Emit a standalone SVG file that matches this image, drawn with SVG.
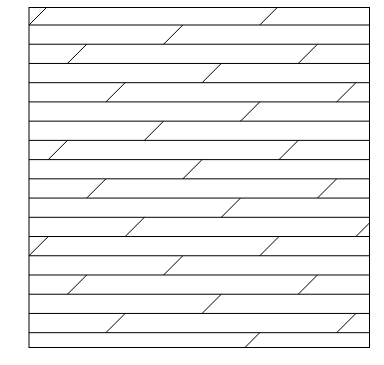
<svg xmlns="http://www.w3.org/2000/svg" width="384" height="365" viewBox="0 0 384 365">
<style>
.b{fill:none;stroke:#000;stroke-width:1}
.l{stroke:#000;stroke-width:1;fill:none}
</style>
<rect width="384" height="365" fill="#fff"/>
<g id="boards">
<path class="l" d="M29 25H369.5M29 44.23H369.5M29 63.46H369.5M29 82.69H369.5M29 101.92H369.5M29 121.15H369.5M29 140.38H369.5M29 159.61H369.5M29 178.84H369.5M29 198.07H369.5M29 217.3H369.5M29 236.53H369.5M29 255.76H369.5M29 274.99H369.5M29 294.22H369.5M29 313.45H369.5M29 332.68H369.5"/>
</g>
<g id="joints">
<path class="l" d="M29 25L46.5 7.5M259.76 25L277.26 7.5
M163.61 44.23L182.84 25
M67.46 63.46L86.69 44.23M298.22 63.46L317.45 44.23
M202.07 82.69L221.3 63.46
M105.92 101.92L125.15 82.69M336.68 101.92L355.91 82.69
M240.53 121.15L259.76 101.92
M144.38 140.38L163.61 121.15
M48.23 159.61L67.46 140.38M278.99 159.61L298.22 140.38
M182.84 178.84L202.07 159.61
M86.69 198.07L105.92 178.84M317.45 198.07L336.68 178.84
M221.3 217.3L240.53 198.07
M125.15 236.53L144.38 217.3M355.91 236.53L369.5 222.94
M29 255.76L48.23 236.53M259.76 255.76L278.99 236.53
M163.61 274.99L182.84 255.76
M67.46 294.22L86.69 274.99M298.22 294.22L317.45 274.99
M202.07 313.45L221.3 294.22
M105.92 332.68L125.15 313.45M336.68 332.68L355.91 313.45
M244.94 347.5L259.76 332.68"/>
</g>
<rect id="frame" class="b" x="29" y="7.5" width="340.5" height="340"/>
</svg>
